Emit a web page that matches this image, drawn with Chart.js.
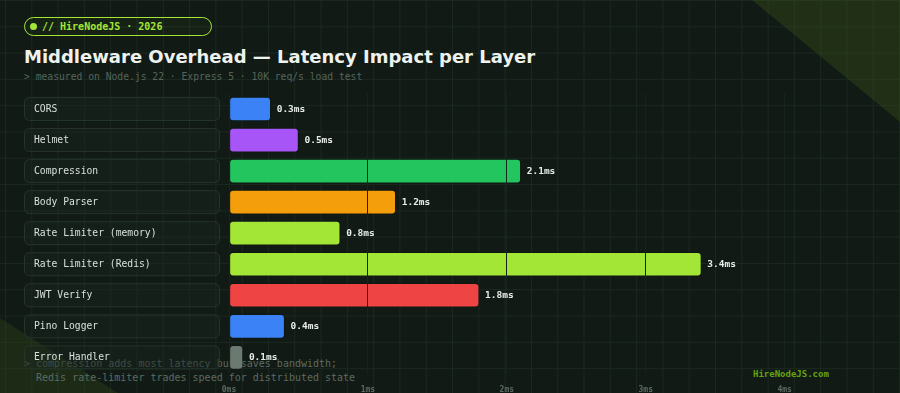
<!DOCTYPE html>
<html>
<head>
<meta charset="utf-8">
<script src="https://cdn.jsdelivr.net/npm/chart.js@4.4.1/dist/chart.umd.min.js"></script>
<style>
  html, body { margin: 0; padding: 0; }
  body {
    width: 900px; height: 393px; overflow: hidden; position: relative;
    background-color: #111a15;
    background-image:
      linear-gradient(#1a281f 1px, transparent 1px),
      linear-gradient(90deg, #1a281f 1px, transparent 1px);
    background-size: 26.3px 26.3px;
    background-position: 0 0, 5px 0;
    font-family: "DejaVu Sans Mono", monospace;
  }
  .tri { position: absolute; }
  .tri-tr {
    left: 752px; top: 0; width: 148px; height: 122px;
    background: rgba(60, 90, 25, 0.35);
    clip-path: polygon(0 0, 100% 0, 100% 100%);
  }
  .tri-bl {
    left: 0; top: 318px; width: 118px; height: 75px;
    background: rgba(50, 75, 25, 0.35);
    clip-path: polygon(0 0, 100% 100%, 0 100%);
  }
  .badge {
    position: absolute; left: 24px; top: 17px; width: 186px; height: 17px;
    border: 1px solid #a3e635; border-radius: 10px;
    background: rgba(163, 230, 53, 0.04);
    color: #a3e635; font-weight: bold; font-size: 10px; line-height: 17px;
    box-sizing: content-box;
  }
  .badge .dot {
    position: absolute; left: 5px; top: 5px; width: 7px; height: 7px;
    border-radius: 50%; background: #a3e635;
  }
  .badge span.t { position: absolute; left: 17px; top: 0; }
  h1 {
    position: absolute; left: 24px; top: 46px; margin: 0;
    font-family: "DejaVu Sans", sans-serif; font-weight: bold;
    font-size: 18px; color: #eef2ee; white-space: nowrap;
  }
  .sub {
    position: absolute; left: 24px; top: 71px; font-size: 9.7px;
    color: #56655b; white-space: pre;
  }
  .note {
    position: absolute; left: 24px; top: 357px; font-size: 10px;
    line-height: 14px; color: #5d6b62; white-space: pre;
  }
  .brand {
    position: absolute; left: 753px; top: 369px; font-size: 9px;
    font-weight: bold; color: #65a30d;
  }
  #wrap { position: absolute; left: 0; top: 0; width: 900px; height: 412px; }
</style>
</head>
<body>
<div class="tri tri-tr"></div>
<div class="tri tri-bl"></div>
<div class="badge"><div class="dot"></div><span class="t">// HireNodeJS · 2026</span></div>
<h1>Middleware Overhead — Latency Impact per Layer</h1>
<div class="sub">&gt; measured on Node.js 22 · Express 5 · 10K req/s load test</div>
<div class="note">&gt; compression adds most latency but saves bandwidth;
  Redis rate-limiter trades speed for distributed state</div>
<div class="brand">HireNodeJS.com</div>
<div id="wrap"><canvas id="latencyChart"></canvas></div>

<script>
// middleware layers and measured latency (ms)
const layers = ['CORS', 'Helmet', 'Compression', 'Body Parser', 'Rate Limiter (memory)',
    'Rate Limiter (Redis)', 'JWT Verify', 'Pino Logger', 'Error Handler'];
const latencyMs = [0.3, 0.5, 2.1, 1.2, 0.8, 3.4, 1.8, 0.4, 0.1];
const barColors = [
    '#3b82f6', // blue
    '#a855f7', // purple
    '#22c55e', // green
    '#f59e0b', // amber
    '#a3e635', // lime
    '#a3e635', // lime
    '#ef4444', // red
    '#3b82f6', // blue
    '#6b7a70'  // gray
];
const xTicks = [0, 1, 2, 3, 4];

const mono = '"DejaVu Sans Mono", monospace';

// label boxes on the left, positioned from the y scale
const labelBoxes = {
    id: 'labelBoxes',
    beforeDatasetsDraw(chart) {
        const { ctx, scales: { y } } = chart;
        ctx.save();
        layers.forEach((name, i) => {
            const cy = y.getPixelForValue(i);
            ctx.beginPath();
            ctx.roundRect(24.5, cy - 11.5, 195, 23, 5);
            ctx.fillStyle = 'rgba(26, 38, 31, 0.45)';
            ctx.fill();
            ctx.strokeStyle = '#26352c';
            ctx.lineWidth = 1;
            ctx.stroke();
            ctx.fillStyle = '#d9e0db';
            ctx.font = '9.7px ' + mono;
            ctx.textBaseline = 'middle';
            ctx.fillText(name, 34, cy + 0.5);
        });
        ctx.restore();
    }
};

// value labels after each bar, drawn last so grid lines don't cross them
const valueLabels = {
    id: 'valueLabels',
    afterDraw(chart) {
        const { ctx } = chart;
        const meta = chart.getDatasetMeta(0);
        ctx.save();
        ctx.fillStyle = '#e8ede9';
        ctx.font = 'bold 9.5px ' + mono;
        ctx.textBaseline = 'middle';
        meta.data.forEach((bar, i) => {
            ctx.fillText(latencyMs[i] + 'ms', bar.x + 6, bar.y + 0.5);
        });
        ctx.restore();
    }
};

const ctx = document.getElementById('latencyChart').getContext('2d');
new Chart(ctx, {
    type: 'bar',
    data: {
        labels: layers,
        datasets: [{
            data: latencyMs,
            backgroundColor: barColors,
            borderColor: 'rgba(0,0,0,0.15)',
            borderWidth: 1,
            borderSkipped: false,
            borderRadius: 4,
            barThickness: 24
        }]
    },
    options: {
        indexAxis: 'y',
        responsive: true,
        maintainAspectRatio: false,
        animation: false,
        layout: { padding: { top: 93.5, bottom: 5.5, left: 229, right: 25 } },
        plugins: {
            legend: { display: false },
            tooltip: { enabled: false }
        },
        scales: {
            y: { display: false },
            x: {
                min: 0,
                max: 4.65,
                border: { display: false },
                grid: { color: '#17241c', lineWidth: 1, drawTicks: false, z: 1 },
                afterBuildTicks(axis) {
                    axis.ticks = xTicks.map(v => ({ value: v }));
                },
                ticks: {
                    padding: 12,
                    color: '#5a6a60',
                    font: { family: mono, size: 8, weight: 'bold' },
                    callback: v => v + 'ms'
                }
            }
        }
    },
    plugins: [labelBoxes, valueLabels]
});
</script>
</body>
</html>
